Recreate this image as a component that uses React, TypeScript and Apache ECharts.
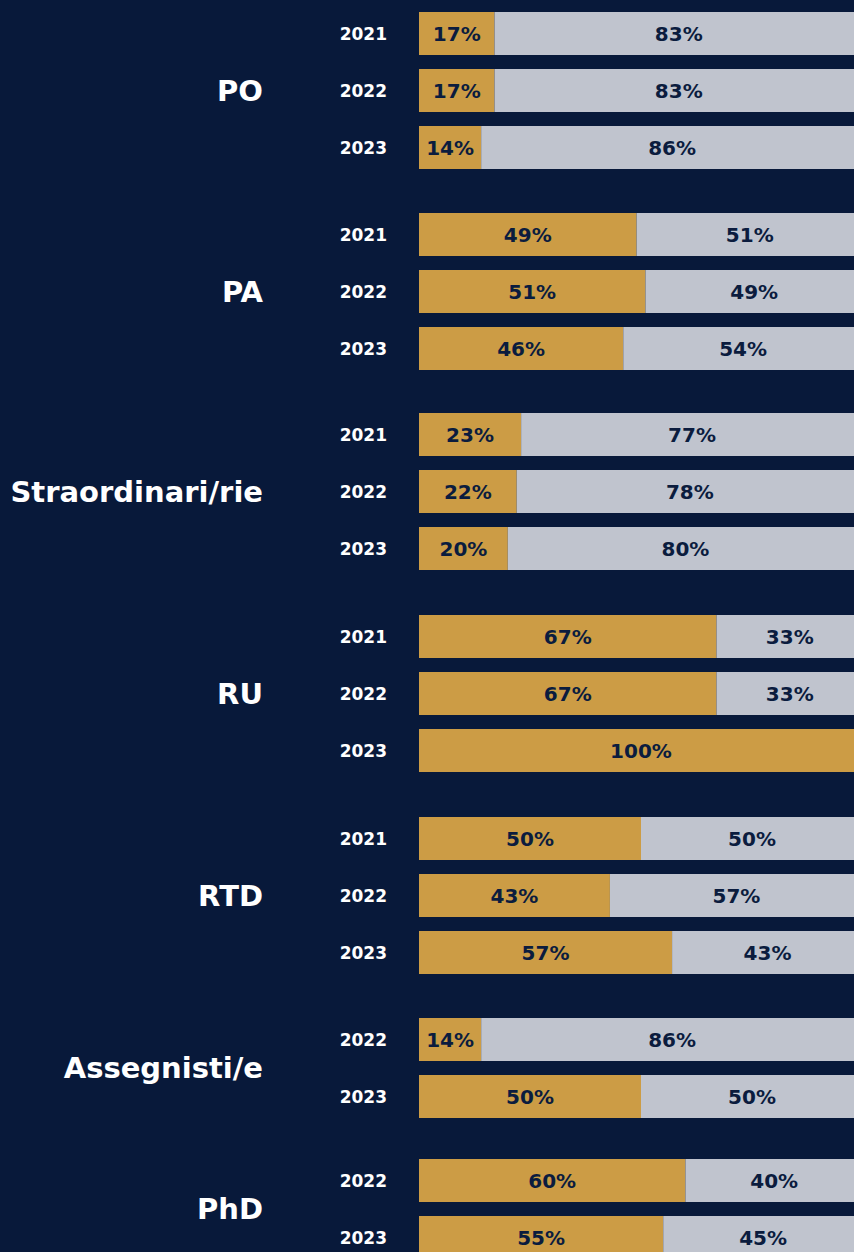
import React, { useEffect, useRef } from "react";
import * as echarts from "echarts";

const groups = ["PO", "PA", "Straordinari/rie", "RU", "RTD", "Assegnisti/e", "PhD"];
const years = [
  ["2021", "2022", "2023"],
  ["2021", "2022", "2023"],
  ["2021", "2022", "2023"],
  ["2021", "2022", "2023"],
  ["2021", "2022", "2023"],
  ["2022", "2023"],
  ["2022", "2023"],
];
const womenShare = [
  [17, 17, 14],
  [49, 51, 46],
  [23, 22, 20],
  [67, 67, 100],
  [50, 43, 57],
  [14, 50],
  [60, 55],
];
const menShare = [
  [83, 83, 86],
  [51, 49, 54],
  [77, 78, 80],
  [33, 33, 0],
  [50, 57, 43],
  [86, 50],
  [40, 45],
];

const BG = "#08193a";
const GOLD = "#cc9c45";
const GREY = "#c0c4ce";
const DARK = "#0b1c3e";
const FONT = "'DejaVu Sans', Inter, sans-serif";

const gridTops = [5, 206, 406, 608, 810, 1011, 1152];
const SLOT = 57;

export default function App() {
  const ref = useRef<HTMLDivElement>(null);
  useEffect(() => {
    if (!ref.current) return;
    const chart = echarts.init(ref.current, null, { renderer: "svg" });
    const grid: any[] = [];
    const xAxis: any[] = [];
    const yAxis: any[] = [];
    const series: any[] = [];
    groups.forEach((g, i) => {
      grid.push({ left: 419, width: 444, top: gridTops[i], height: SLOT * years[i].length });
      xAxis.push({ gridIndex: i, type: "value", min: 0, max: 100, show: false });
      yAxis.push({
        gridIndex: i,
        type: "category",
        data: years[i],
        inverse: true,
        axisLine: { show: false },
        axisTick: { show: false },
        splitLine: { show: false },
        axisLabel: { color: "#ffffff", fontSize: 17, fontWeight: "bold", fontFamily: FONT, margin: 32 },
        name: g,
        nameLocation: "middle",
        nameRotate: 0,
        nameGap: 156,
        nameTextStyle: {
          color: "#ffffff",
          fontSize: 29,
          fontWeight: "bold",
          fontFamily: FONT,
          align: "right",
          verticalAlign: "middle",
          padding: [0, 0, 6, 0],
        },
      });
      const lbl = {
        show: true,
        position: "inside",
        color: DARK,
        fontSize: 20,
        fontWeight: "bold",
        fontFamily: FONT,
        formatter: (p: any) => (p.value > 0 ? p.value + "%" : ""),
      };
      series.push({
        type: "bar",
        xAxisIndex: i,
        yAxisIndex: i,
        stack: "s" + i,
        data: womenShare[i],
        barWidth: 43,
        itemStyle: { color: GOLD },
        label: lbl,
      });
      series.push({
        type: "bar",
        xAxisIndex: i,
        yAxisIndex: i,
        stack: "s" + i,
        data: menShare[i],
        barWidth: 43,
        itemStyle: { color: GREY },
        label: lbl,
      });
    });
    chart.setOption({
      animation: false,
      backgroundColor: BG,
      grid,
      xAxis,
      yAxis,
      series,
    });
    return () => chart.dispose();
  }, []);
  return (
    <div style={{ position: "fixed", left: 0, top: 0, width: 854, height: 1252, overflow: "hidden", background: BG }}>
      <div ref={ref} style={{ width: 900, height: 1300 }} />
    </div>
  );
}
